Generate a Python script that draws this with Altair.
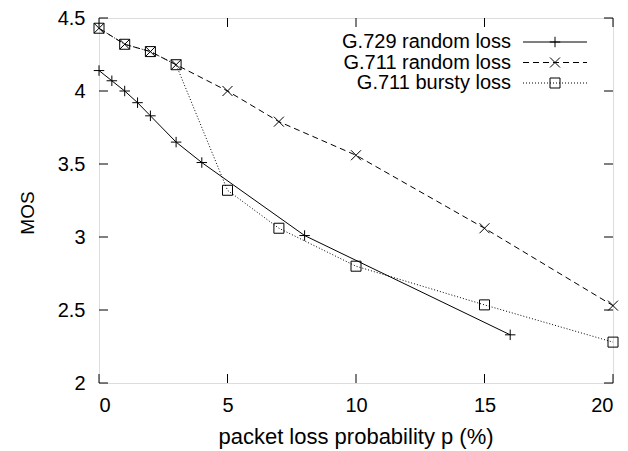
import altair as alt
import pandas as pd

# --- data ---
g729_x = [0, 0.5, 1, 1.5, 2, 3, 4, 8, 16]
g729_y = [4.14, 4.07, 4.00, 3.92, 3.83, 3.65, 3.51, 3.01, 2.33]

g711r_x = [0, 1, 2, 3, 5, 7, 10, 15, 20]
g711r_y = [4.43, 4.32, 4.27, 4.18, 4.00, 3.79, 3.56, 3.06, 2.53]

g711b_x = [0, 1, 2, 3, 5, 7, 10, 15, 20]
g711b_y = [4.43, 4.32, 4.27, 4.18, 3.32, 3.06, 2.80, 2.535, 2.28]

series_names = ["G.729 random loss", "G.711 random loss", "G.711 bursty loss"]
x_ticks = [0, 5, 10, 15, 20]
y_ticks = [2, 2.5, 3, 3.5, 4, 4.5]
x_title = "packet loss probability p (%)"
y_title = "MOS"

W, H = 514, 365
FONT = "Liberation Sans"
FS_TICK = 20
FS_LEG = 20
FS_XT = 22

PLUS = "M-1,0L1,0M0,-1L0,1"
CROSS = "M-1,-1L1,1M-1,1L1,-1"
SQUARE = "M-1,-1L1,-1L1,1L-1,1Z"

xs = alt.Scale(domain=[0, 20], nice=False, zero=False)
ys = alt.Scale(domain=[2, 4.5], nice=False, zero=False)

styles = [
    (g729_x, g729_y, None, PLUS, 110),
    (g711r_x, g711r_y, [6, 4], CROSS, 100),
    (g711b_x, g711b_y, [1, 2], SQUARE, 100),
]

layers = []
for i, (xv, yv, dash, shape, size) in enumerate(styles):
    df = pd.DataFrame({"x": xv, "y": yv, "s": series_names[i]})
    base = alt.Chart(df)
    lk = dict(color="black", strokeWidth=1)
    if dash:
        lk["strokeDash"] = dash
    ln = base.mark_line(**lk).encode(
        x=alt.X("x:Q", scale=xs, axis=alt.Axis(
            values=x_ticks, ticks=False, domain=False, grid=False, format="~g",
            labelFont=FONT, labelFontSize=FS_TICK, labelPadding=12, labelColor="black",
            title=None)),
        y=alt.Y("y:Q", scale=ys, axis=alt.Axis(
            values=y_ticks, ticks=False, domain=False, grid=False, format="~g",
            labelFont=FONT, labelFontSize=FS_TICK, labelPadding=14, labelColor="black",
            title=None)),
        order="x:Q",
    )
    pt = base.mark_point(shape=shape, size=size, filled=False, color="black",
                         strokeWidth=1, opacity=1).encode(
        x=alt.X("x:Q", scale=xs), y=alt.Y("y:Q", scale=ys))
    layers += [ln, pt]

    # legend row
    ry = 24 + 20.5 * i
    ldf = pd.DataFrame({"s": [series_names[i]]})
    lb = alt.Chart(ldf)
    layers.append(lb.mark_text(align="right", baseline="middle", font=FONT,
                               fontSize=FS_LEG, color="black").encode(
        x=alt.value(412), y=alt.value(ry), text="s:N"))
    rk = dict(color="black", strokeWidth=1)
    if dash:
        rk["strokeDash"] = dash
    layers.append(lb.mark_rule(**rk).encode(
        x=alt.value(424), x2=alt.value(488), y=alt.value(ry)))
    layers.append(lb.mark_point(shape=shape, size=size, filled=False, color="black",
                                strokeWidth=1, opacity=1).encode(
        x=alt.value(456), y=alt.value(ry)))

# axis titles
tdf = pd.DataFrame({"xt": [x_title], "yt": [y_title]})
tb = alt.Chart(tdf)
layers.append(tb.mark_text(align="center", baseline="alphabetic", font=FONT,
                           fontSize=FS_XT, color="black").encode(
    x=alt.value(W / 2), y=alt.value(426), text="xt:N"))
layers.append(tb.mark_text(align="center", baseline="middle", font=FONT,
                           fontSize=19, color="black", angle=270).encode(
    x=alt.value(-71.5), y=alt.value(195), text="yt:N"))

# inward ticks on all four sides
tl = 9
xt = alt.Chart(pd.DataFrame({"t": x_ticks}))
yt = alt.Chart(pd.DataFrame({"t": y_ticks}))
layers.append(xt.mark_rule(color="black", strokeWidth=1).encode(
    x=alt.X("t:Q", scale=xs), y=alt.value(H - tl), y2=alt.value(H)))
layers.append(xt.mark_rule(color="black", strokeWidth=1).encode(
    x=alt.X("t:Q", scale=xs), y=alt.value(0), y2=alt.value(tl)))
layers.append(yt.mark_rule(color="black", strokeWidth=1).encode(
    y=alt.Y("t:Q", scale=ys), x=alt.value(0), x2=alt.value(tl)))
layers.append(yt.mark_rule(color="black", strokeWidth=1).encode(
    y=alt.Y("t:Q", scale=ys), x=alt.value(W - tl), x2=alt.value(W)))

chart = alt.layer(*layers).properties(
    width=W, height=H,
    autosize=alt.AutoSizeParams(type="none"),
    padding={"left": 91, "top": 10, "right": 7, "bottom": 66},
).configure_view(stroke="black", strokeWidth=1.5).configure(background="white")

chart.save("out.html", embed_options={"renderer": "svg", "actions": False})
